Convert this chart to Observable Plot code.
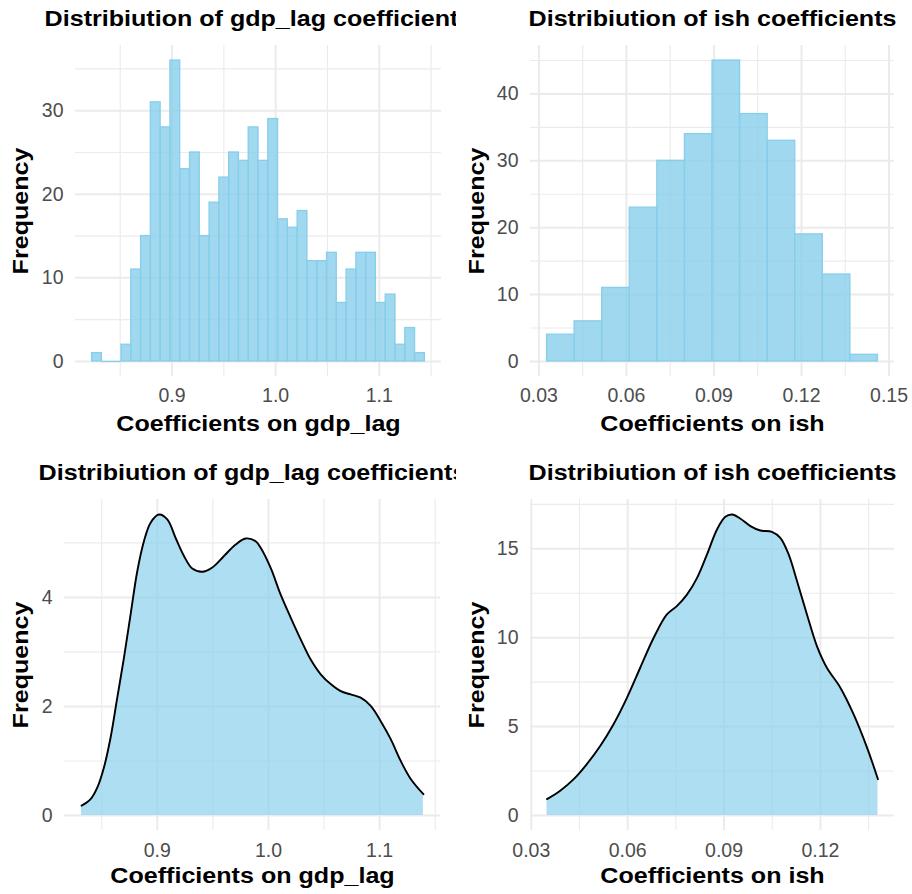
<!DOCTYPE html>
<html><head><meta charset="utf-8">
<script src="https://cdn.jsdelivr.net/npm/d3@7"></script>
<script src="https://cdn.jsdelivr.net/npm/@observablehq/plot@0.6"></script>
<style>
body{margin:0;background:#fff;}
#grid{display:grid;grid-template-columns:456px 456px;grid-template-rows:447px 447px;width:912px;height:894px;}
.cell{overflow:hidden;width:456px;height:447px;position:relative;}
.cell svg{display:block;}
</style></head><body><div id="grid"></div>
<script>
// ---- data ----
const gdpLagCounts = [1,0,0,2,11,15,31,28,36,23,25,15,19,22,25,24,28,24,29,17,16,18,12,12,13,7,11,13,13,7,8,2,4,1];
const gdpLagRange = [0.8229, 1.1440];
const ishCounts = [4,6,11,23,30,34,45,37,33,19,13,1];
const ishRange = [0.0328, 0.1462];

const gdpLagDensX = [0.8319,0.840,0.846,0.852,0.858,0.864,0.870,0.876,0.882,0.888,0.894,0.9015,0.909,0.9165,0.924,0.9315,0.9405,0.9495,0.960,0.9705,0.9795,0.9885,0.993,1.002,1.011,1.020,1.029,1.038,1.047,1.056,1.065,1.074,1.083,1.092,1.101,1.110,1.119,1.128,1.1394];
const gdpLagDensY = [0.18,0.30,0.51,0.88,1.43,2.16,2.89,3.69,4.48,5.03,5.37,5.52,5.43,5.09,4.76,4.53,4.47,4.55,4.76,4.97,5.08,5.03,4.91,4.54,4.05,3.63,3.23,2.86,2.59,2.41,2.28,2.22,2.16,2.01,1.73,1.40,1.00,0.67,0.39];
const ishDensX = [0.0349,0.0390,0.0432,0.0473,0.0515,0.0556,0.0598,0.0639,0.0681,0.0722,0.0753,0.0785,0.0816,0.0847,0.0878,0.0904,0.0925,0.0950,0.0982,0.1013,0.1049,0.1075,0.1101,0.1127,0.1158,0.1189,0.1220,0.1262,0.1303,0.1345,0.1379];
const ishDensY = [0.92,1.39,2.04,2.89,3.92,5.13,6.63,8.31,10.0,11.31,11.78,12.44,13.37,14.69,16.09,16.80,16.93,16.71,16.28,16.03,15.96,15.62,14.69,13.19,11.31,9.53,8.31,7.19,5.70,3.82,2.04];

const gdpXTicks = [0.9, 1.0, 1.1];
const gdpXMinor = [0.85, 0.95, 1.05, 1.15];
const ishXTicks = [0.03, 0.06, 0.09, 0.12, 0.15];
const ishXMinor = [0.045, 0.075, 0.105, 0.135];
const histGdpYTicks = [0, 10, 20, 30];
const histGdpYMinor = [5, 15, 25, 35];
const histIshYTicks = [0, 10, 20, 30, 40];
const histIshYMinor = [5, 15, 25, 35, 45];
const densGdpYTicks = [0, 2, 4];
const densGdpYMinor = [1, 3, 5];
const densIshYTicks = [0, 5, 10, 15];
const densIshYMinor = [2.5, 7.5, 12.5, 17.5];

const titleGdp = "Distribiution of gdp_lag coefficients";
const titleIsh = "Distribiution of ish coefficients";
const xLabGdp = "Coefficients on gdp_lag";
const xLabIsh = "Coefficients on ish";
const yLab = "Frequency";

// ---- helpers ----
const FONT = "'Liberation Sans', Arial, Helvetica, sans-serif";
const SKY = "#87CEEB";
const STRETCH = 1.14;
function expand([a, b]) { const d = (b - a) * 0.05; return [a - d, b + d]; }
function inside(ticks, [a, b]) { return ticks.filter(t => t >= a && t <= b); }
function bins(counts, [lo, hi]) {
  const w = (hi - lo) / counts.length;
  return counts.map((c, i) => ({x1: lo + i * w, x2: lo + (i + 1) * w, count: c}));
}
function pts(xs, ys) { return xs.map((x, i) => ({x, y: ys[i]})); }

function panel(o) {
  const txt = {fontFamily: FONT, fontWeight: "bold", fontSize: 22, fill: "black", text: d => d};
  const xT = inside(o.xTicks, o.xDomain), xM = inside(o.xMinor, o.xDomain);
  const yT = inside(o.yTicks, o.yDomain), yM = inside(o.yMinor, o.yDomain);
  const grid = {stroke: "#EBEBEB", strokeOpacity: 1};
  return Plot.plot({
    width: 456, height: 447,
    marginLeft: o.ml, marginRight: o.mr, marginTop: o.mt, marginBottom: o.mb,
    style: {fontFamily: FONT, fontSize: "19.5px", color: "#4D4D4D", background: "#fff", overflow: "hidden"},
    x: {domain: o.xDomain}, y: {domain: o.yDomain},
    marks: [
      Plot.gridX(xM, {...grid, strokeWidth: 1.1}),
      Plot.gridY(yM, {...grid, strokeWidth: 1.1}),
      Plot.gridX(xT, {...grid, strokeWidth: 2}),
      Plot.gridY(yT, {...grid, strokeWidth: 2}),
      ...o.marks,
      Plot.axisX(xT, {tickSize: 0, tickPadding: o.xpad, tickFormat: o.xFmt, label: null, fontSize: 19.5, fill: "#4D4D4D", fontFamily: FONT}),
      Plot.axisY(yT, {tickSize: 0, tickPadding: 12, tickFormat: d => String(d), label: null, fontSize: 19.5, fill: "#4D4D4D", fontFamily: FONT}),
      Plot.text([o.title], {...txt, frameAnchor: "top", textAnchor: "middle", dy: -20, lineAnchor: "bottom"}),
      Plot.text([o.xLabel], {...txt, frameAnchor: "bottom", textAnchor: "middle", dy: o.xlabDy, lineAnchor: "bottom"}),
      Plot.text([yLab], {...txt, frameAnchor: "left", textAnchor: "middle", dx: 27 - o.ml, rotate: -90, lineAnchor: "bottom"})
    ]
  });
}

function histMarks(b) {
  return [
    Plot.rectY(b.filter(d => d.count > 0), {x1: "x1", x2: "x2", y: "count", fill: SKY, fillOpacity: 0.8, stroke: SKY, strokeWidth: 1.3}),
    Plot.ruleY(b.filter(d => d.count === 0), {x1: "x1", x2: "x2", y: 0, stroke: SKY, strokeWidth: 1.3})
  ];
}
function densMarks(p) {
  return [
    Plot.areaY(p, {x: "x", y: "y", fill: SKY, fillOpacity: 0.68, curve: "catmull-rom"}),
    Plot.line(p, {x: "x", y: "y", stroke: "black", strokeWidth: 1.9, curve: "catmull-rom"})
  ];
}

const gdpBins = bins(gdpLagCounts, gdpLagRange);
const ishBins = bins(ishCounts, ishRange);
const gdpPts = pts(gdpLagDensX, gdpLagDensY);
const ishPts = pts(ishDensX, ishDensY);

const charts = [
  panel({ml: 75, mr: 15, mt: 45, mb: 71, xpad: 12, xlabDy: 54,
    xDomain: expand(gdpLagRange), yDomain: expand([0, d3.max(gdpLagCounts)]),
    xTicks: gdpXTicks, xMinor: gdpXMinor, yTicks: histGdpYTicks, yMinor: histGdpYMinor,
    xFmt: d3.format(".1f"), title: titleGdp, xLabel: xLabGdp, marks: histMarks(gdpBins)}),
  panel({ml: 74, mr: 18, mt: 45, mb: 71, xpad: 12, xlabDy: 54,
    xDomain: expand(ishRange), yDomain: expand([0, d3.max(ishCounts)]),
    xTicks: ishXTicks, xMinor: ishXMinor, yTicks: histIshYTicks, yMinor: histIshYMinor,
    xFmt: d3.format(".2f"), title: titleIsh, xLabel: xLabIsh, marks: histMarks(ishBins)}),
  panel({ml: 64, mr: 16, mt: 52, mb: 64, xpad: 13, xlabDy: 52,
    xDomain: expand(d3.extent(gdpLagDensX)), yDomain: expand([0, d3.max(gdpLagDensY)]),
    xTicks: gdpXTicks, xMinor: gdpXMinor, yTicks: densGdpYTicks, yMinor: densGdpYMinor,
    xFmt: d3.format(".1f"), title: titleGdp, xLabel: xLabGdp, marks: densMarks(gdpPts)}),
  panel({ml: 74, mr: 18, mt: 52, mb: 64, xpad: 13, xlabDy: 52,
    xDomain: expand(d3.extent(ishDensX)), yDomain: expand([0, d3.max(ishDensY)]),
    xTicks: ishXTicks, xMinor: ishXMinor, yTicks: densIshYTicks, yMinor: densIshYMinor,
    xFmt: d3.format(".2f"), title: titleIsh, xLabel: xLabIsh, marks: densMarks(ishPts)})
];

const gridEl = document.getElementById("grid");
for (const c of charts) {
  const cell = document.createElement("div");
  cell.className = "cell";
  cell.appendChild(c);
  gridEl.appendChild(cell);
}
// widen the bold titles (the reference's bold face is set wider than Liberation Sans Bold)
function widen() {
  document.querySelectorAll("svg text").forEach(t => {
    const fw = t.closest("[font-weight]");
    if (!fw || fw.getAttribute("font-weight") !== "bold") return;
    t.removeAttribute("textLength");
    const w = t.getComputedTextLength();
    if (w > 0) {
      t.setAttribute("textLength", (w * STRETCH).toFixed(1));
      t.setAttribute("lengthAdjust", "spacingAndGlyphs");
    }
  });
}
widen();
if (document.fonts && document.fonts.ready) document.fonts.ready.then(widen);
</script></body></html>
